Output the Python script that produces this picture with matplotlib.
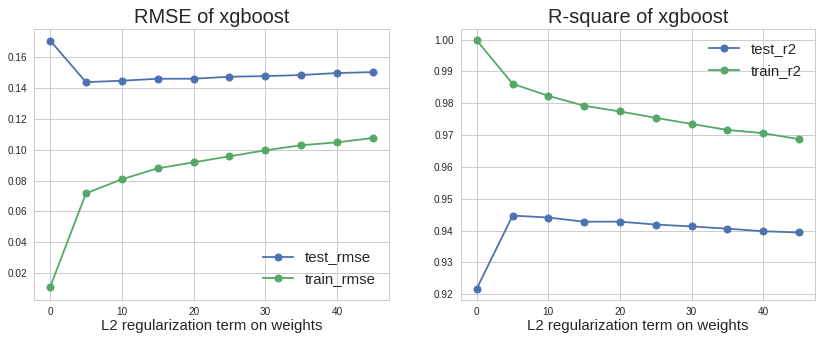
import matplotlib
matplotlib.use("Agg")
import matplotlib.pyplot as plt

# L2 regularization strength (lambda)
reg_lambda = [0, 5, 10, 15, 20, 25, 30, 35, 40, 45]

test_rmse = [0.1710, 0.1440, 0.1449, 0.1462, 0.1462, 0.1475, 0.1479, 0.1486, 0.1499, 0.1505]
train_rmse = [0.0109, 0.0718, 0.0809, 0.0880, 0.0919, 0.0958, 0.0997, 0.1030, 0.1049, 0.1077]

test_r2 = [0.9218, 0.9447, 0.9441, 0.9428, 0.9428, 0.9419, 0.9413, 0.9406, 0.9398, 0.9394]
train_r2 = [0.9997, 0.9861, 0.9823, 0.9792, 0.9774, 0.9754, 0.9735, 0.9716, 0.9706, 0.9687]

BLUE = "#4C72B0"
GREEN = "#55A868"

plt.rcParams.update({
    "font.family": ["Liberation Sans", "DejaVu Sans"],
    "axes.facecolor": "white",
    "axes.edgecolor": "#cccccc",
    "axes.linewidth": 1.0,
    "grid.color": "#cccccc",
    "grid.linewidth": 1.0,
    "xtick.color": "#262626",
    "ytick.color": "#262626",
    "xtick.labelsize": 10,
    "ytick.labelsize": 10,
    "xtick.major.size": 0,
    "ytick.major.size": 0,
    "xtick.major.pad": 7,
    "ytick.major.pad": 7,
    "text.color": "#262626",
    "axes.labelcolor": "#262626",
})

W, H = 822, 341
fig = plt.figure(figsize=(W / 72, H / 72), dpi=72)
ax1 = fig.add_axes([34 / W, 41 / H, 355 / W, 271 / H])
ax2 = fig.add_axes([460.7 / W, 41 / H, 354.3 / W, 271 / H])

line_kw = dict(marker="o", linewidth=1.8, markersize=7)

ax1.plot(reg_lambda, test_rmse, color=BLUE, label="test_rmse", **line_kw)
ax1.plot(reg_lambda, train_rmse, color=GREEN, label="train_rmse", **line_kw)
ax1.set_title("RMSE of xgboost", fontsize=20, pad=6)
ax1.set_xlabel("L2 regularization term on weights", fontsize=15, labelpad=2)
ax1.set_yticks([0.02, 0.04, 0.06, 0.08, 0.10, 0.12, 0.14, 0.16])
ax1.set_yticklabels(["0.02", "0.04", "0.06", "0.08", "0.10", "0.12", "0.14", "0.16"])
ax1.legend(loc="lower right", fontsize=15, frameon=False)

ax2.plot(reg_lambda, test_r2, color=BLUE, label="test_r2", **line_kw)
ax2.plot(reg_lambda, train_r2, color=GREEN, label="train_r2", **line_kw)
ax2.set_title("R-square of xgboost", fontsize=20, pad=6)
ax2.set_xlabel("L2 regularization term on weights", fontsize=15, labelpad=2)
ax2.set_yticks([0.92, 0.93, 0.94, 0.95, 0.96, 0.97, 0.98, 0.99, 1.00])
ax2.set_yticklabels(["0.92", "0.93", "0.94", "0.95", "0.96", "0.97", "0.98", "0.99", "1.00"])
ax2.legend(loc="upper right", fontsize=15, frameon=False)

for ax in (ax1, ax2):
    ax.grid(True)
    ax.set_axisbelow(True)
    ax.set_xticks([0, 10, 20, 30, 40])
    ax.set_xlim(-2.25, 47.25)
    for s in ax.spines.values():
        s.set_color("#cccccc")

ax1.set_ylim(0.0025, 0.1785)
ax2.set_ylim(0.9182, 1.0033)

fig.savefig("out.png", dpi=72)
